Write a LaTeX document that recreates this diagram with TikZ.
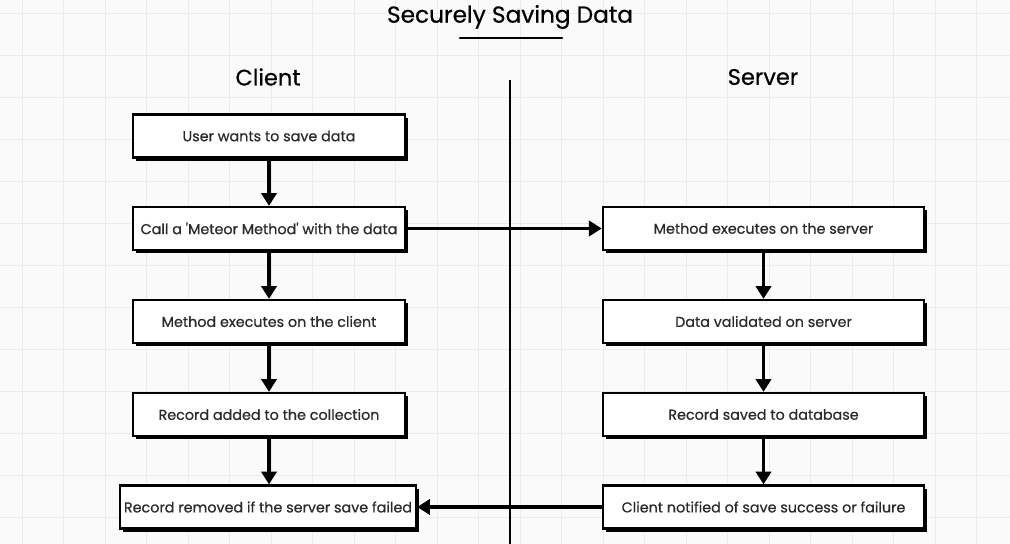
\documentclass[tikz,border=0pt]{standalone}
\usepackage{fontspec}
\setmainfont{Poppins}
\newfontfamily\boxfont{Poppins}[FakeBold=0.6]
\usetikzlibrary{arrows.meta,shadows}
\definecolor{gridgray}{HTML}{EBEBEB}
\definecolor{paper}{HTML}{FAFAFA}
\definecolor{inkgray}{HTML}{2A2A2A}
\tikzset{
  stepbox/.style={draw, line width=1.6pt, fill=white, text=inkgray,
    minimum height=1.075cm, inner sep=1pt,
    font=\boxfont\fontsize{10.2}{12}\selectfont,
    drop shadow={shadow xshift=0.08cm, shadow yshift=-0.08cm, fill=black, opacity=1}},
  clientbox/.style={stepbox, minimum width=6.8cm},
  serverbox/.style={stepbox, minimum width=8.03cm},
  flow/.style={line width=2.6pt, -{Triangle[length=0.32cm, width=0.38cm]}},
  heading/.style={font=\boxfont\fontsize{16}{19}\selectfont, text=black},
}
\begin{document}
\begin{tikzpicture}[x=0.025cm, y=-0.025cm]
  % Paper and grid
  \fill[paper] (0,0) rectangle (1010,544);
  \useasboundingbox (0,0) rectangle (1010,544);
  \foreach \gx in {22,63.5,...,1010}
    \draw[gridgray, line width=0.6pt] (\gx,0) -- (\gx,544);
  \foreach \gy in {13,55,...,544}
    \draw[gridgray, line width=0.6pt] (0,\gy) -- (1010,\gy);

  % Title
  \node[heading, font=\boxfont\fontsize{16.5}{19}\selectfont] (title) at (510,17) {Securely Saving Data};
  \coordinate (ulineL) at (460,38);
  \coordinate (ulineR) at (562,38);
  \draw[line width=1.8pt, line cap=round] (ulineL) -- (ulineR);

  % Column headings and the divider
  \node[heading] (client) at (268,77) {Client};
  \node[heading] (server) at (763,77) {Server};
  \coordinate (divtop) at (510,80);
  \coordinate (divbot) at (510,544);
  \draw[line width=1.2pt] (divtop) -- (divbot);

  % Client side
  \node[clientbox] (c1) at (269,136) {User wants to save data};
  \node[clientbox] (c2) at (269,228.5) {Call a \textquotesingle Meteor Method\textquotesingle{} with the data};
  \node[clientbox] (c3) at (269,321.5) {Method executes on the client};
  \node[clientbox] (c4) at (269,414.5) {Record added to the collection};
  \node[stepbox, minimum width=7.4cm] (c5) at (268,507) {Record removed if the server save failed};

  % Server side
  \node[serverbox] (s1) at (763.5,228.5) {Method executes on the server};
  \node[serverbox] (s2) at (763.5,321.5) {Data validated on server};
  \node[serverbox] (s3) at (763.5,414.5) {Record saved to database};
  \node[serverbox] (s4) at (763.5,507) {Client notified of save success or failure};

  % Draw the arrows
  \draw[flow] (c1) -- (c2);
  \draw[flow] (c2) -- (c3);
  \draw[flow] (c3) -- (c4);
  \draw[flow] (c4.south) -- (c4.south |- c5.north);
  \draw[flow] (s1) -- (s2);
  \draw[flow] (s2) -- (s3);
  \draw[flow] (s3) -- (s4);
  \draw[flow] (c2) -- (s1);
  \draw[flow] (s4) -- (c5);
\end{tikzpicture}
\end{document}
